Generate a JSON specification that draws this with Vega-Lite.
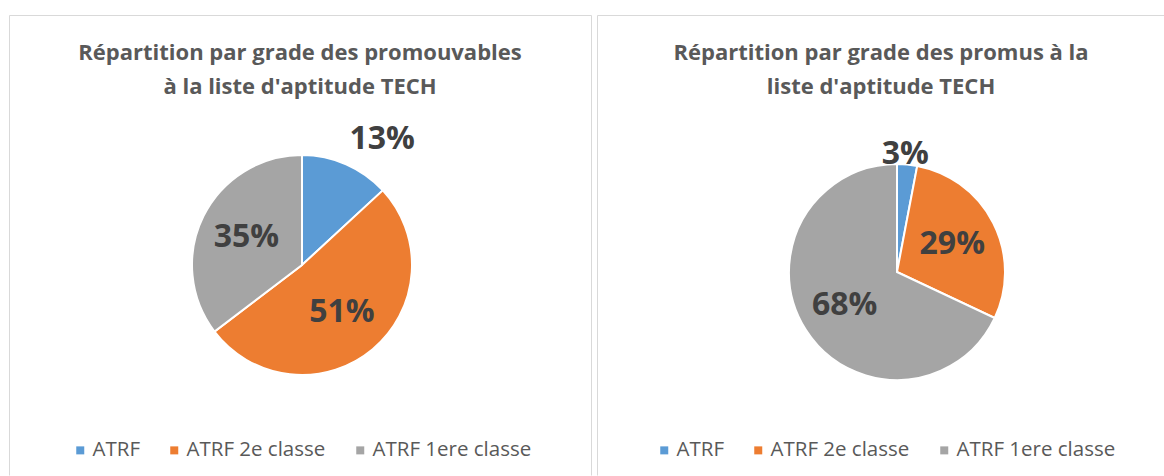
{
  "$schema": "https://vega.github.io/schema/vega-lite/v6.json",
  "padding": {"left": 8, "top": 14, "right": 0, "bottom": 0},
  "background": "white",
  "spacing": 4,
  "config": {
    "font": "Open Sans",
    "title": {"font": "Open Sans", "fontSize": 22, "fontWeight": "bold", "color": "#595959", "lineHeight": 34, "frame": "group", "anchor": "middle"},
    "legend": {"labelFont": "Open Sans", "labelFontSize": 20.5, "labelColor": "#595959", "symbolType": "square", "symbolSize": 64, "symbolStrokeWidth": 0, "labelOffset": 2, "columnPadding": 24, "padding": 0, "labelLimit": 400}
  },
  "datasets": {
    "promouvables": [
      {"grade": "ATRF", "rang": 1, "part": 0.13},
      {"grade": "ATRF 2e classe", "rang": 2, "part": 0.51},
      {"grade": "ATRF 1ere classe", "rang": 3, "part": 0.35}
    ],
    "promus": [
      {"grade": "ATRF", "rang": 1, "part": 0.03},
      {"grade": "ATRF 2e classe", "rang": 2, "part": 0.29},
      {"grade": "ATRF 1ere classe", "rang": 3, "part": 0.68}
    ]
  },
  "resolve": {"scale": {"color": "independent"}, "legend": {"color": "independent"}},
  "hconcat": [
    {
      "width": 582,
      "height": 460,
      "view": {"stroke": "#d9d9d9", "strokeWidth": 1, "strokeDash": [1042, 582, 460, 0]},
      "title": {"text": ["Répartition par grade des promouvables", "à la liste d'aptitude TECH"], "offset": -84},
      "data": {"name": "promouvables"},
      "encoding": {
        "theta": {"field": "part", "type": "quantitative", "stack": true},
        "order": {"field": "rang", "type": "ordinal"}
      },
      "layer": [
        {
          "mark": {"type": "arc", "outerRadius": 110, "stroke": "white", "strokeWidth": 2, "xOffset": 2, "yOffset": 20},
          "encoding": {
            "color": {
              "field": "grade", "type": "nominal",
              "scale": {"domain": ["ATRF", "ATRF 2e classe", "ATRF 1ere classe"], "range": ["#5B9BD5", "#ED7D31", "#A5A5A5"]},
              "legend": {"title": null, "orient": "none", "direction": "horizontal", "legendX": 61, "legendY": 425}
            }
          }
        },
        {
          "mark": {"type": "text", "fontSize": 32, "fontWeight": "bold", "color": "#404040", "align": "center", "baseline": "middle", "xOffset": 2, "yOffset": 20,
            "radius": {"expr": "datum.grade === 'ATRF' ? 145 : 62"},
            "dx": {"expr": "datum.grade === 'ATRF' ? 22 : 0"},
            "dy": {"expr": "datum.grade === 'ATRF' ? 7 : 0"}},
          "encoding": {"text": {"field": "part", "type": "quantitative", "format": ".0%"}, "detail": {"field": "grade"}}
        }
      ]
    },
    {
      "width": 568,
      "height": 460,
      "view": {"stroke": "#d9d9d9", "strokeWidth": 1, "strokeDash": [568, 1028, 460, 0]},
      "title": {"text": ["Répartition par grade des promus à la", "liste d'aptitude TECH"], "offset": -84},
      "data": {"name": "promus"},
      "encoding": {
        "theta": {"field": "part", "type": "quantitative", "stack": true},
        "order": {"field": "rang", "type": "ordinal"}
      },
      "layer": [
        {
          "mark": {"type": "arc", "outerRadius": 108, "stroke": "white", "strokeWidth": 2, "xOffset": 16, "yOffset": 27},
          "encoding": {
            "color": {
              "field": "grade", "type": "nominal",
              "scale": {"domain": ["ATRF", "ATRF 2e classe", "ATRF 1ere classe"], "range": ["#5B9BD5", "#ED7D31", "#A5A5A5"]},
              "legend": {"title": null, "orient": "none", "direction": "horizontal", "legendX": 57, "legendY": 425}
            }
          }
        },
        {
          "mark": {"type": "text", "fontSize": 32, "fontWeight": "bold", "color": "#404040", "align": "center", "baseline": "middle", "xOffset": 16, "yOffset": 27,
            "radius": {"expr": "datum.grade === 'ATRF' ? 119 : 62"},
            "dx": {"expr": "datum.grade === 'ATRF' ? -3 : 0"}},
          "encoding": {"text": {"field": "part", "type": "quantitative", "format": ".0%"}, "detail": {"field": "grade"}}
        }
      ]
    }
  ]
}
